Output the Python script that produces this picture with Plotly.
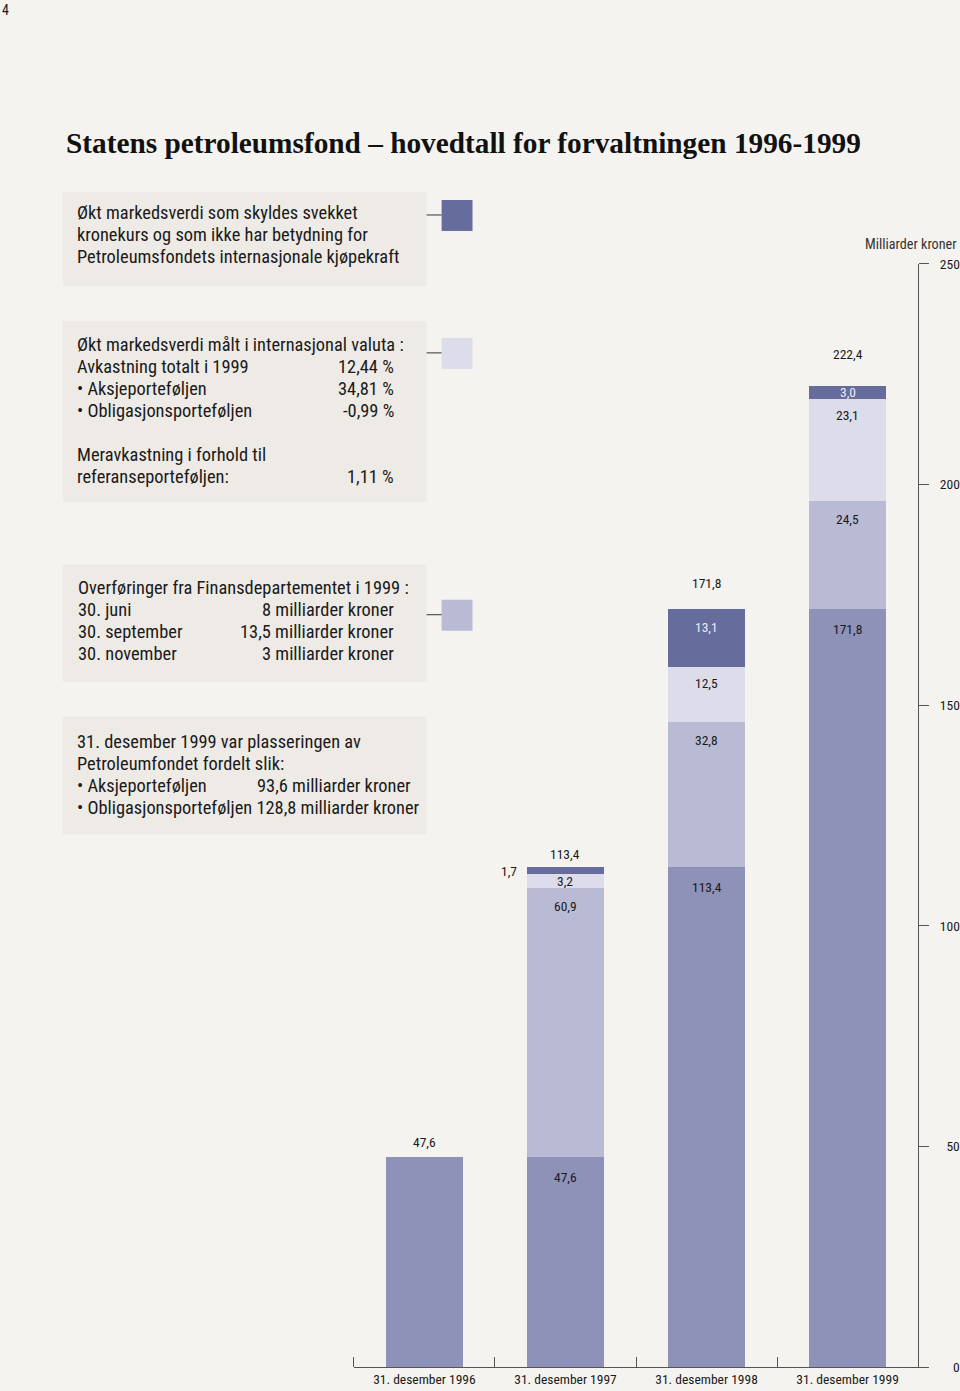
import plotly.graph_objects as go

W, H = 960, 1391

# ---------------- data ----------------
categories = ["31. desember 1996", "31. desember 1997", "31. desember 1998", "31. desember 1999"]
start_value = [47.6, 47.6, 113.4, 171.8]      # market value at start of period (1996: total)
transfers = [0.0, 60.9, 32.8, 24.5]           # transfers from the Ministry of Finance
intl_return = [0.0, 3.2, 12.5, 23.1]          # increased market value in international currency
currency_effect = [0.0, 1.7, 13.1, 3.0]       # increased market value due to weaker krone
totals = [47.6, 113.4, 171.8, 222.4]
y_ticks = [0, 50, 100, 150, 200, 250]
y_tick_labels = ["\u2007\u20070", "\u200750", "100", "150", "200", "250"]

# ---------------- style ----------------
BG = "#f5f3ef"
BOX = "#eeeae5"
C_BASE = "#8e91b8"
C_TRANS = "#b9bad3"
C_INTL = "#dddcea"
C_CUR = "#666d9c"
NARROW = "Liberation Sans Narrow, Arial Narrow, Roboto Condensed, sans-serif"
TXT = "#1a1a1a"

def fmt(v):
    return f"{v:.1f}".replace(".", ",")

def px(x):
    return x / W

def py(y):
    # vertical pixel -> paper fraction (compensates the viewer's vertical fit)
    yy = (y - 6.9) / 0.9891
    return 1 - yy / H

xs = list(range(len(categories)))
fig = go.Figure()
for vals, col in [(start_value, C_BASE), (transfers, C_TRANS),
                  (intl_return, C_INTL), (currency_effect, C_CUR)]:
    fig.add_trace(go.Bar(x=xs, y=vals, marker=dict(color=col, line=dict(width=0)),
                         width=0.55, hoverinfo="skip", showlegend=False))

ann = []
LBL = dict(family=NARROW, size=13.5, color=TXT)
LBL_W = dict(family=NARROW, size=13.5, color="#eceaf2")

series = [(start_value, -20, LBL), (transfers, -18, LBL), (intl_return, -16, LBL), (currency_effect, -18, LBL_W)]
for i in xs:
    bottom = 0.0
    for k, (vals, off, f) in enumerate(series):
        v = vals[i]
        top = bottom + v
        if v > 0:
            if i == 0 and k == 0:
                pass  # 1996 only carries the total label
            elif v < 2.5:
                ann.append(dict(x=i - 0.275, y=(bottom + top) / 2, xref="x", yref="y",
                                text=fmt(v), showarrow=False, xanchor="right",
                                xshift=-8, yanchor="middle", font=LBL))
            elif v < 5:
                ann.append(dict(x=i, y=(bottom + top) / 2, xref="x", yref="y",
                                text=fmt(v), showarrow=False, yanchor="middle", font=f))
            else:
                ann.append(dict(x=i, y=top, xref="x", yref="y", text=fmt(v),
                                showarrow=False, yanchor="middle", yshift=off, font=f))
        bottom = top

total_offsets = [15, 13, 26, 32]
for i in xs:
    ann.append(dict(x=i, y=totals[i], xref="x", yref="y", text=fmt(totals[i]),
                    showarrow=False, yanchor="middle", yshift=total_offsets[i], font=LBL))

# axis title
ann.append(dict(x=px(962), y=py(243), xref="paper", yref="paper", text="Milliarder kroner",
                showarrow=False, xanchor="right", yanchor="middle",
                font=dict(family=NARROW, size=14.2, color="#333")))

# page number
ann.append(dict(x=px(0), y=py(9), xref="paper", yref="paper", text="4", showarrow=False,
                xanchor="left", yanchor="middle", font=dict(family=NARROW, size=14, color=TXT)))

# title
ann.append(dict(x=px(64), y=py(142), xref="paper", yref="paper",
                text="<b>Statens petroleumsfond – hovedtall for forvaltningen 1996-1999</b>",
                showarrow=False, xanchor="left", yanchor="middle",
                font=dict(family="Liberation Serif, Times New Roman, serif", size=29.3, color="#111")))

BODY = dict(family=NARROW, size=18.4, color=TXT)

def line(x, y, text, anchor="left"):
    ann.append(dict(x=px(x), y=py(y), xref="paper", yref="paper", text=text,
                    showarrow=False, xanchor=anchor, yanchor="middle", font=BODY))

# box 1
line(75, 212, "Økt markedsverdi som skyldes svekket")
line(75, 234, "kronekurs og som ikke har betydning for")
line(75, 256, "Petroleumsfondets internasjonale kjøpekraft")
# box 2
line(75, 344, "Økt markedsverdi målt i internasjonal valuta :")
line(75, 366, "Avkastning totalt i 1999")
line(397, 366, "12,44 %", "right")
line(75, 388, "• Aksjeporteføljen")
line(397, 388, "34,81 %", "right")
line(75, 410, "• Obligasjonsporteføljen")
line(397, 410, "-0,99 %", "right")
line(75, 454, "Meravkastning i forhold til")
line(75, 476, "referanseporteføljen:")
line(397, 476, "1,11 %", "right")
# box 3
line(76, 587, "Overføringer fra Finansdepartementet i 1999 :")
line(76, 609, "30. juni")
line(397, 609, "8 milliarder kroner", "right")
line(76, 631, "30. september")
line(397, 631, "13,5 milliarder kroner", "right")
line(76, 653, "30. november")
line(397, 653, "3 milliarder kroner", "right")
# box 4
line(75, 741, "31. desember 1999 var plasseringen av")
line(75, 763, "Petroleumfondet fordelt slik:")
line(75, 785, "• Aksjeporteføljen")
line(414, 785, "93,6 milliarder kroner", "right")
line(75, 807, "• Obligasjonsporteføljen 128,8 milliarder kroner")

shapes = []
for (y0, y1) in [(191, 285), (320, 501), (564, 681), (716, 834)]:
    shapes.append(dict(type="rect", xref="paper", yref="paper", x0=px(63), x1=px(428),
                       y0=py(y1), y1=py(y0), fillcolor=BOX, line=dict(width=0), layer="below"))
for (yc, col) in [(214, C_CUR), (352, C_INTL), (614, C_TRANS)]:
    shapes.append(dict(type="rect", xref="paper", yref="paper", x0=px(443), x1=px(474),
                       y0=py(yc + 16), y1=py(yc - 15), fillcolor=col, line=dict(width=0)))
    shapes.append(dict(type="line", xref="paper", yref="paper", x0=px(428), x1=px(443),
                       y0=py(yc), y1=py(yc), line=dict(color="#333", width=1)))

fig.update_layout(
    width=W, height=H, margin=dict(l=0, r=0, t=0, b=0),
    paper_bgcolor=BG, plot_bgcolor=BG, barmode="stack", bargap=0,
    annotations=ann, shapes=shapes, showlegend=False,
    xaxis=dict(domain=[px(355), px(921)], range=[-0.5, 3.5], tickmode="array",
               tickvals=xs, ticktext=categories, ticks="", showgrid=False, zeroline=False,
               showline=True, linecolor="#555", linewidth=1,
               tickfont=dict(family=NARROW, size=13.5, color=TXT),
               minor=dict(tickmode="array", tickvals=[-0.5, 0.5, 1.5, 2.5], ticks="inside",
                          ticklen=10, tickcolor="#555", tickwidth=1, showgrid=False),
               fixedrange=True),
    yaxis=dict(domain=[py(1367), py(263)], range=[0, 250], side="right", anchor="x",
               tickmode="array", tickvals=y_ticks, ticktext=y_tick_labels,
               ticks="outside", ticklen=10,
               tickcolor="#555", tickwidth=1, showline=True, linecolor="#555", linewidth=1,
               showgrid=False, zeroline=False, ticklabelstandoff=8,
               tickfont=dict(family=NARROW, size=13.5, color=TXT), fixedrange=True),
)

fig.write_html("out.html", config={"displayModeBar": False},
               post_script="document.body.style.margin='0';document.body.style.overflow='hidden';")
